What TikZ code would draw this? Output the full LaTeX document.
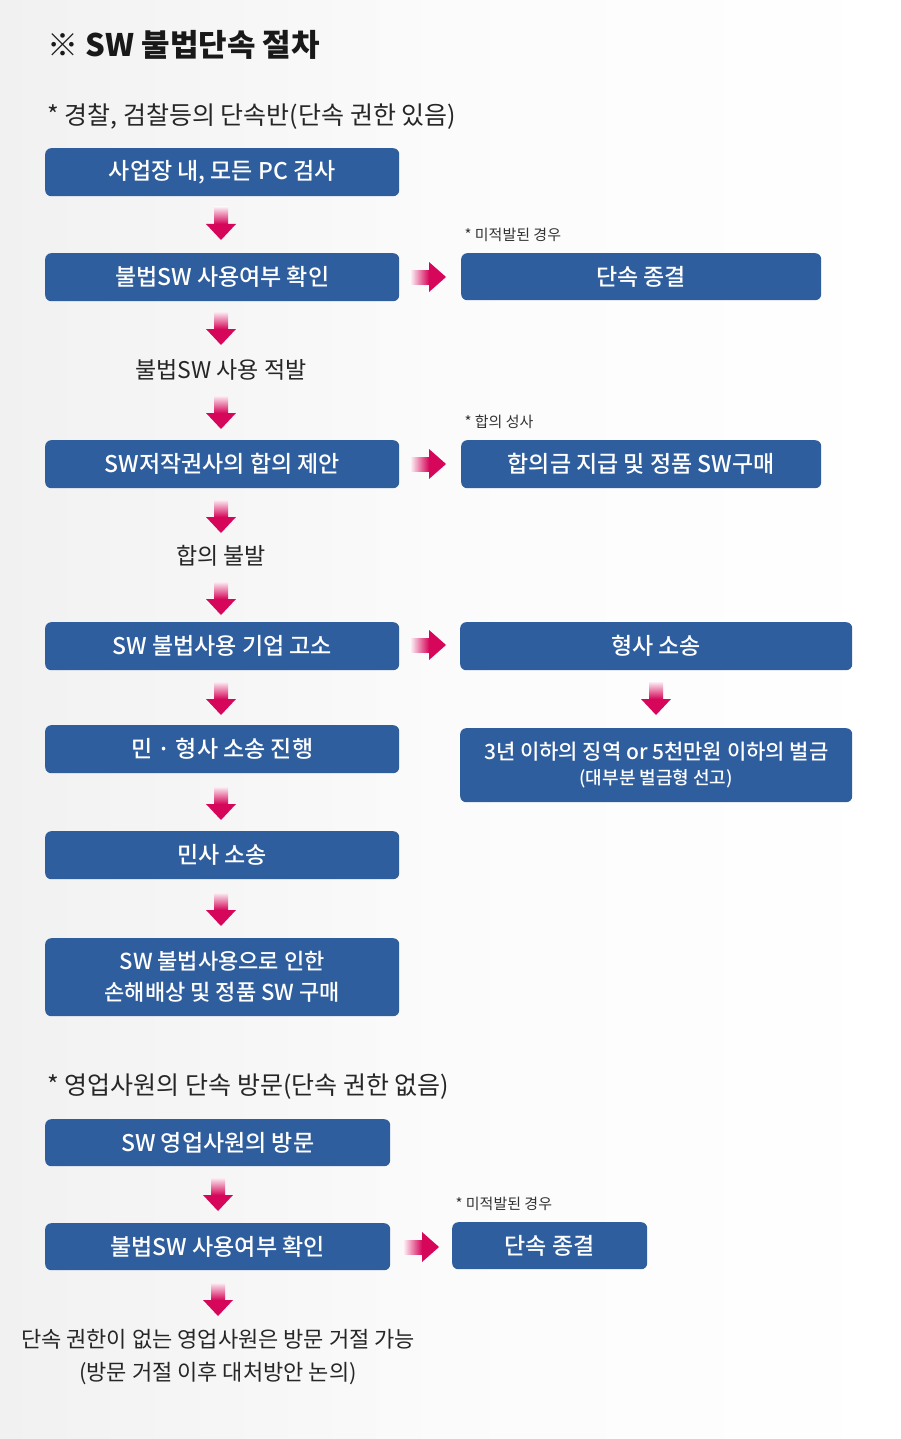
\documentclass[tikz,border=0pt]{standalone}
\usepackage{fontspec}
\setmainfont{Noto Sans CJK KR}
\newfontfamily\kb{Noto Sans CJK KR Medium}
\usetikzlibrary{positioning}
\definecolor{boxblue}{HTML}{2F5E9F}
\definecolor{arrmag}{HTML}{D6065A}
\definecolor{bgray}{HTML}{F1F1F2}
\tikzset{
  stepbox/.style={fill=boxblue, rounded corners=6pt, text=white, font=\kb\fontsize{23}{28}\selectfont, align=center, inner sep=0pt, anchor=north west},
  flowtext/.style={font=\fontsize{23}{33}\selectfont, align=center, text=black!85},
  notetext/.style={font=\fontsize{15}{18}\selectfont, text=black!80, anchor=south west},
  headtext/.style={font=\fontsize{25}{29}\selectfont, text=black!85, anchor=west}
}
% fat arrows: \fatdown{x}{ytop}, \fatright{xleft}{y}
\newcommand{\fatdown}[2]{%
  \shade[top color=arrmag!8, bottom color=arrmag] (#1-7,#2) rectangle (#1+7,#2+17);
  \fill[arrmag] (#1-15,#2+17) -- (#1+15,#2+17) -- (#1,#2+33) -- cycle;}
\newcommand{\fatright}[2]{%
  \shade[left color=arrmag!8, right color=arrmag] (#1,#2-7) rectangle (#1+18,#2+7);
  \fill[arrmag] (#1+18,#2-15) -- (#1+18,#2+15) -- (#1+35,#2) -- cycle;}
\begin{document}
\begin{tikzpicture}[x=1pt,y=-1pt]
\useasboundingbox (0,0) rectangle (900,1439);
\shade[left color=bgray, right color=white, middle color=white!97!gray] (0,0) rectangle (900,1439);

\node[anchor=west, font=\kb\fontsize{31}{36}\selectfont\bfseries, text=black!90] (title) at (44,45) {※ SW 불법단속 절차};
\node[headtext] (head1) at (44,117) {* 경찰, 검찰등의 단속반(단속 권한 있음)};

% left column
\node[stepbox, minimum width=354pt, minimum height=48pt] (b1) at (45,148) {사업장 내, 모든 PC 검사};
\node[stepbox, minimum width=354pt, minimum height=48pt] (b2) at (45,253) {불법SW 사용여부 확인};
\node[flowtext] (t1) at (221,370) {불법SW 사용 적발};
\node[stepbox, minimum width=354pt, minimum height=48pt] (b3) at (45,440) {SW저작권사의 합의 제안};
\node[flowtext] (t2) at (221,556) {합의 불발};
\node[stepbox, minimum width=354pt, minimum height=48pt] (b4) at (45,622) {SW 불법사용 기업 고소};
\node[stepbox, minimum width=354pt, minimum height=48pt] (b5) at (45,725) {민 · 형사 소송 진행};
\node[stepbox, minimum width=354pt, minimum height=48pt] (b6) at (45,831) {민사 소송};
\node[stepbox, minimum width=354pt, minimum height=78pt, font=\kb\fontsize{22}{31}\selectfont] (b7) at (45,938) {SW 불법사용으로 인한\\손해배상 및 정품 SW 구매};

% right column
\node[notetext] (n1) at (461,245) {* 미적발된 경우};
\node[stepbox, minimum width=360pt, minimum height=47pt] (r1) at (461,253) {단속 종결};
\node[notetext] (n2) at (461,432) {* 합의 성사};
\node[stepbox, minimum width=360pt, minimum height=48pt] (r2) at (461,440) {합의금 지급 및 정품 SW구매};
\node[stepbox, minimum width=392pt, minimum height=48pt] (r3) at (460,622) {형사 소송};
\node[stepbox, minimum width=392pt, minimum height=74pt, font=\kb\fontsize{21}{27}\selectfont] (r4) at (460,728) {3년 이하의 징역 or 5천만원 이하의 벌금\\[-2pt]{\fontsize{18}{22}\selectfont (대부분 벌금형 선고)}};

\fatdown{221}{207} \fatdown{221}{312} \fatdown{221}{396} \fatdown{221}{500}
\fatdown{221}{582} \fatdown{221}{682} \fatdown{221}{787} \fatdown{221}{893}
\fatdown{656}{682}
\fatright{411}{277} \fatright{411}{464} \fatright{411}{645}

% section 2
\node[headtext] (head2) at (44,1087) {* 영업사원의 단속 방문(단속 권한 없음)};
\node[stepbox, minimum width=345pt, minimum height=47pt] (s1) at (45,1119) {SW 영업사원의 방문};
\node[stepbox, minimum width=345pt, minimum height=47pt] (s2) at (45,1223) {불법SW 사용여부 확인};
\node[notetext] (n3) at (452,1214) {* 미적발된 경우};
\node[stepbox, minimum width=195pt, minimum height=47pt] (s3) at (452,1222) {단속 종결};
\node[flowtext, font=\fontsize{22}{33}\selectfont] (t3) at (218,1357) {단속 권한이 없는 영업사원은 방문 거절 가능\\(방문 거절 이후 대처방안 논의)};
\fatdown{218}{1178} \fatdown{218}{1283}
\fatright{404}{1247}
\end{tikzpicture}
\end{document}
